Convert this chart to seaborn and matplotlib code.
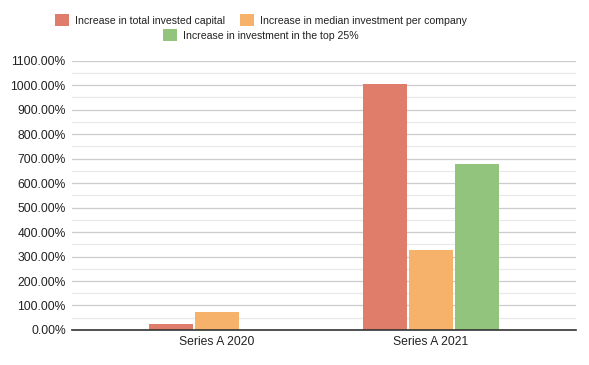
import matplotlib
matplotlib.use("Agg")
import matplotlib.pyplot as plt
from matplotlib.ticker import MultipleLocator, FuncFormatter
from matplotlib.patches import Patch
import pandas as pd
import seaborn as sns

# Chart data
categories = ["Series A 2020", "Series A 2021"]
series_names = ["Increase in total invested capital",
                "Increase in median investment per company",
                "Increase in investment in the top 25%"]
total_capital = [24.5, 1005.0]
median_investment = [72.0, 327.0]
top_25 = [0.0, 678.0]
colors = ["#e07c6a", "#f6b26b", "#93c47d"]

rows = []
for name, vals in zip(series_names, [total_capital, median_investment, top_25]):
    for cat, v in zip(categories, vals):
        rows.append({"category": cat, "series": name, "value": v})
df = pd.DataFrame(rows)

sns.set_style("white")
plt.rcParams["font.family"] = ["Liberation Sans", "DejaVu Sans"]
plt.rcParams["text.color"] = "#222222"

fig = plt.figure(figsize=(5.89, 3.65), dpi=100)
ax = fig.add_axes([0.1222, 0.0959, 0.978 - 0.1222, 0.8342 - 0.0959])

sns.barplot(data=df, x="category", y="value", hue="series",
            hue_order=series_names, order=categories,
            palette=colors, width=0.645, gap=0.045,
            saturation=1, linewidth=0, legend=False, ax=ax)

ax.set_ylim(0, 1100)
ax.set_xlim(-0.678, 1.678)
ax.yaxis.set_major_locator(MultipleLocator(100))
ax.yaxis.set_minor_locator(MultipleLocator(50))
ax.yaxis.set_major_formatter(FuncFormatter(lambda v, p: f"{v:.2f}%"))
ax.grid(which="major", axis="y", color="#cccccc", linewidth=0.9)
ax.grid(which="minor", axis="y", color="#e8e8e8", linewidth=0.9)
ax.set_axisbelow(True)
for s in ["top", "right", "left"]:
    ax.spines[s].set_visible(False)
ax.spines["bottom"].set_color("#333333")
ax.spines["bottom"].set_linewidth(1.2)
ax.tick_params(axis="both", which="both", length=0, labelsize=8.7,
               colors="#222222")
ax.tick_params(axis="y", pad=4.5)
ax.tick_params(axis="x", pad=4)
ax.set_xlabel("")
ax.set_ylabel("")

# Legend: two entries on first row, one centred on second
handles = [Patch(facecolor=c, edgecolor="none") for c in colors]
leg_kw = dict(frameon=False, fontsize=7.6, handlelength=1.3, handleheight=1.3,
              handletextpad=0.6, columnspacing=1.4, borderpad=0, loc="center")
leg1 = fig.legend(handles[:2], series_names[:2], ncol=2,
                  bbox_to_anchor=(0.443, 0.945), **leg_kw)
fig.legend(handles[2:], series_names[2:], ncol=1,
           bbox_to_anchor=(0.443, 0.904), **leg_kw)

fig.savefig("out.png", dpi=100)
